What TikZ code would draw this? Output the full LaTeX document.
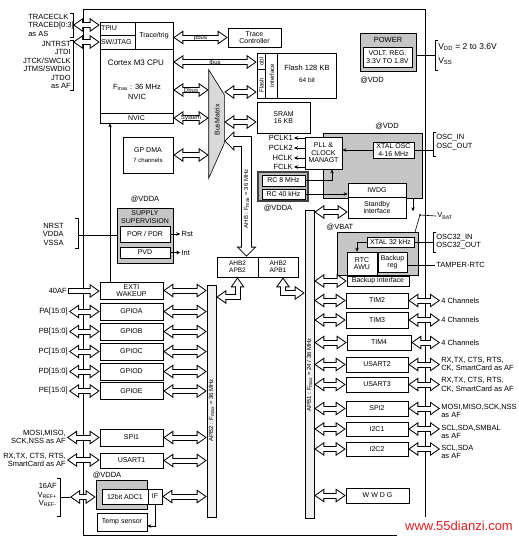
\documentclass[tikz,border=0pt]{standalone}
\usepackage{fontspec}
\setmainfont{Liberation Sans}
\usetikzlibrary{arrows.meta,positioning,calc}
\definecolor{wmred}{RGB}{225,30,30}

\begin{document}
\begin{tikzpicture}[x=1pt, y=-1pt, line width=0.6pt,
  box/.style 2 args={draw, fill=white, inner sep=1pt, align=center, minimum width=#1pt, minimum height=#2pt, font=\fontsize{7}{7.5}\selectfont},
  gbox/.style 2 args={box={#1}{#2}, fill=gray!45},
  lbl/.style={inner sep=1pt, align=center, font=\fontsize{7.5}{8.5}\selectfont},
  rlbl/.style={lbl, anchor=west, align=left, font=\fontsize{7.5}{8.5}\selectfont},
  tiny/.style={inner sep=0.5pt, font=\fontsize{6}{6}\selectfont},
  sarr/.style={-{Stealth[length=4pt,width=3.5pt]}},
  bus/.style={line width=6pt, {Triangle[length=10pt,width=14pt,line width=0pt]}-{Triangle[length=10pt,width=14pt,line width=0pt]},
    postaction={draw=white, line width=4pt, shorten <=1.7pt, shorten >=1.7pt, {Triangle[length=7.3pt,width=10.2pt,line width=0pt]}-{Triangle[length=7.3pt,width=10.2pt,line width=0pt]}}},
  onebus/.style={line width=6pt, -{Triangle[length=10pt,width=14pt,line width=0pt]},
    postaction={draw=white, line width=4pt, shorten <=1pt, shorten >=1.7pt, -{Triangle[length=7.3pt,width=10.2pt,line width=0pt]}}},
  widebus/.style={line width=11pt, {Triangle[length=10pt,width=20pt,line width=0pt]}-{Triangle[length=10pt,width=20pt,line width=0pt]},
    postaction={draw=white, line width=9pt, shorten <=1.4pt, shorten >=1.4pt, {Triangle[length=7.6pt,width=15.2pt,line width=0pt]}-{Triangle[length=7.6pt,width=15.2pt,line width=0pt]}}}]
\useasboundingbox (0,0) rectangle (519,541);
\draw (397,535) -- (83,535) -- (83,9) -- (425,9) -- (425,517);

\node[lbl, anchor=west, align=left] (trace) at (27,25) {TRACECLK\\TRACED[0:3]\\as AS};
\node[lbl, anchor=east, align=right] (jtag) at (72,65) {JNTRST\\JTDI\\JTCK/SWCLK\\JTMS/SWDIO\\JTDO\\as AF};
\draw (70,13) -- (73,13) -- (73,37) -- (70,37);
\draw (70,40) -- (73,40) -- (73,90) -- (70,90);
\coordinate (tracebr) at (73,25);
\coordinate (jtagbr) at (73,42);

\node[box={35}{13}, text width=33pt, align=left] (tpiu) at (117.5,28.5) {TPIU};
\node[box={35}{14}, text width=33pt, align=left] (swj) at (117.5,42) {SW/JTAG};
\node[box={38}{27}] (trig) at (154,35.5) {Trace/trig};
\node[box={73}{74}] (cpu) at (136.5,86) {};
\node[box={73}{10}] (nvic) at (136.5,118) {NVIC};
\node[lbl, font=\fontsize{8}{9}\selectfont] (cputxt) at (136,63) {Cortex M3 CPU};
\node[lbl] (fmax) at (137,92) {F\textsubscript{max} : 36 MHz\\[1pt]NVIC};
\node[box={53}{19}] (tctrl) at (254.5,37.5) {Trace\\Controller};

\node[minimum width=15pt, minimum height=108pt, inner sep=0pt] (bm) at (216.5,124) {};
\draw[fill=gray!30] (bm.north west) -- ([yshift=-25pt]bm.north east) -- ([yshift=35pt]bm.south east) -- (bm.south west) -- cycle;
\node[tiny, rotate=90, font=\fontsize{7}{7}\selectfont] (bmtxt) at (217,120) {BusMatrix};

\node[box={79}{45}] (flash) at (296.5,75.5) {};
\draw ([xshift=9pt]flash.north west) -- ([xshift=9pt]flash.south west);
\draw ([xshift=21pt]flash.north west) -- ([xshift=21pt]flash.south west);
\draw ([yshift=-17pt]flash.north west) -- ++(9,0);
\node[tiny, rotate=90] (obl) at (261.5,61.5) {obl};
\node[tiny, rotate=90] (flif1) at (261.5,85) {Flash};
\node[tiny, rotate=90] (flif2) at (272,75.5) {Interface};
\node[lbl] (flashtxt) at (307,74) {Flash 128 KB\\[3pt]{\fontsize{6.5}{7}\selectfont 64 bit}};
\node[box={53}{31}] (sram) at (283.5,117.5) {SRAM\\16 KB};
\node[box={50}{36}] (dma) at (148,155) {GP DMA\\[2pt]{\fontsize{6}{6}\selectfont 7 channels}};

\node[lbl] (vdda1) at (145,199) {@VDDA};
\node[gbox={56}{55}] (supsup) at (145,235.5) {};
\node[lbl, font=\fontsize{7}{7.5}\selectfont] (suptxt) at (145,217) {SUPPLY\\SUPERVISION};
\node[box={50}{16}] (por) at (145,234) {POR / PDR};
\node[box={50}{11}] (pvd) at (145,252.5) {PVD};
\node[lbl, anchor=east, align=right] (nrst) at (65,234) {NRST\\VDDA\\VSSA};
\draw (75,218) -- (78,218) -- (78,248) -- (75,248);
\coordinate (nrstbr) at (78,235);

\node[box={41}{20}, font=\fontsize{6.5}{7}\selectfont] (apb2box) at (237.5,267) {AHB2\\APB2};
\node[box={40}{20}, font=\fontsize{6.5}{7}\selectfont] (apb1box) at (278,267) {AHB2\\APB1};
\node[draw, fill=gray!12, minimum width=9pt, minimum height=232pt, inner sep=0pt] (apb2bar) at (211.5,401) {};
\node[tiny, rotate=90] (apb2txt) at (211.5,410) {APB2 : F\textsubscript{max} = 36 MHz};
\node[draw, fill=gray!12, minimum width=9pt, minimum height=308pt, inner sep=0pt] (apb1bar) at (309.5,364) {};
\node[tiny, rotate=90] (apb1txt) at (309.5,375) {APB1 : F\textsubscript{max} = 24 / 36 MHz};

\node[box={63}{17}] (exti) at (131.5,290.5) {EXTI\\WAKEUP};
\node[lbl, anchor=east] (af40) at (68,291) {40AF};
\node[box={63}{17}] (spi1) at (131.5,437.5) {SPI1};
\node[box={63}{15}] (usart1) at (131.5,460.5) {USART1};
\node[lbl, anchor=east, align=right] (spi1pin) at (67,437.5) {MOSI,MISO,\\SCK,NSS as AF};
\node[lbl, anchor=east, align=right] (u1pin) at (67,460) {RX,TX, CTS, RTS,\\SmartCard as AF};

\node[lbl] (vdda3) at (107,475) {@VDDA};
\node[gbox={51}{29}] (adcbg) at (121.5,494.5) {};
\node[box={46}{15}] (adc) at (125,496.5) {12bit ADC1};
\node[box={14}{15}] (adcif) at (155,496.5) {IF};
\node[box={50}{18}] (temp) at (122,522) {Temp sensor};
\node[lbl, anchor=east, align=right] (vref) at (58,495) {16AF\\V\textsubscript{REF+}\\V\textsubscript{REF-}};
\draw (57,478) -- (60,478) -- (60,516) -- (57,516);
\coordinate (vrefbr) at (60,497);
\coordinate (vrefin) at (70,497);

\node[gbox={56}{38}] (power) at (388,52) {};
\node[lbl] (powtxt) at (388,40) {POWER};
\node[box={49}{20}, line width=0.9pt] (vreg) at (387.5,57) {VOLT. REG.\\3.3V TO 1.8V};
\node[lbl] (vdd1) at (372,80) {@VDD};
\draw (438,40) -- (435,40) -- (435,70) -- (438,70);
\coordinate (vddbr) at (435,55);
\node[rlbl, font=\fontsize{8.5}{9}\selectfont] (vdd) at (437,47) {V\textsubscript{DD} = 2 to 3.6V};
\node[rlbl, font=\fontsize{8.5}{9}\selectfont] (vss) at (437,61) {V\textsubscript{SS}};

\node[lbl] (vdd2) at (387,126) {@VDD};
\node[draw, fill=gray!45, minimum width=99pt, minimum height=65pt, inner sep=0pt] (clkdom) at (372.5,165.5) {};
\node[box={37}{32}] (pll) at (323.5,153) {PLL \&\\CLOCK\\MANAGT};
\node[box={41}{16}, line width=1pt] (xtal) at (393.5,150) {XTAL OSC\\4-16 MHz};
\draw (436,132) -- (433,132) -- (433,156) -- (436,156);
\coordinate (oscbr) at (433,150);
\node[rlbl] (osc) at (435,142) {OSC\_IN\\OSC\_OUT};
\node[lbl, anchor=east] (pclk1) at (294,138) {PCLK1};
\node[lbl, anchor=east] (pclk2) at (294,148) {PCLK2};
\node[lbl, anchor=east] (hclk) at (294,158) {HCLK};
\node[lbl, anchor=east] (fclk) at (294,167) {FCLK};
\node[draw=black!75, line width=1.5pt, fill=gray!55, minimum width=50pt, minimum height=29pt, inner sep=0pt] (rcbox) at (283,186.5) {};
\node[box={43}{11}] (rc8) at (283.5,180.5) {RC 8 MHz};
\node[box={43}{10}] (rc40) at (283.5,194) {RC 40 kHz};
\node[lbl] (vdda2) at (278,208) {@VDDA};
\node[box={58}{14}] (iwdg) at (377,190) {IWDG};
\node[box={58}{21}] (stby) at (377,207.5) {Standby\\interface};
\node[lbl] (vbat1) at (340,227) {@VBAT};
\node[rlbl] (vbat) at (436,216) {V\textsubscript{BAT}};
\coordinate (sw) at (420,215);

\node[draw, fill=gray!45, minimum width=81pt, minimum height=43pt, inner sep=0pt] (bkpdom) at (377.5,253.5) {};
\node[box={47}{10}, line width=1pt] (xtal32) at (390.5,242) {XTAL 32 kHz};
\node[box={30}{23}] (rtc) at (362,263.5) {RTC\\AWU};
\node[box={29}{20}] (breg) at (392.5,262) {Backup\\reg};
\node[box={62}{10}] (bkif) at (378,281) {Backup interface};
\draw (436,232) -- (433,232) -- (433,252) -- (436,252);
\coordinate (osc32br) at (433,242);
\node[rlbl] (osc32) at (435,241.5) {OSC32\_IN\\OSC32\_OUT};
\node[rlbl] (tamper) at (435,265) {TAMPER-RTC};

\node[box={62}{15}] (tim2) at (377,300.5) {TIM2};
\node[box={62}{16}] (tim3) at (377,320) {TIM3};
\node[box={64}{15}] (tim4) at (379,342.5) {TIM4};
\node[box={62}{15}] (usart2) at (377,364.5) {USART2};
\node[box={62}{15}] (usart3) at (377,384.5) {USART3};
\node[box={62}{15}] (spi2) at (377,408.5) {SPI2};
\node[box={62}{14}] (i2c1) at (377,429) {I2C1};
\node[box={62}{14}] (i2c2) at (377,449) {I2C2};
\node[box={63}{15}] (wwdg) at (377.5,495.5) {W W D G};
\node[rlbl] (tim2pin) at (440,300.5) {4 Channels};
\node[rlbl] (tim3pin) at (440,320) {4 Channels};
\node[rlbl] (tim4pin) at (440,342.5) {4 Channels};
\node[rlbl] (u2pin) at (440,364.5) {RX,TX, CTS, RTS,\\CK, SmartCard as AF};
\node[rlbl] (u3pin) at (440,385) {RX,TX, CTS, RTS,\\CK, SmartCard as AF};
\node[rlbl] (spi2pin) at (440,411) {MOSI,MISO,SCK,NSS\\as AF};
\node[rlbl] (i2c1pin) at (440,432) {SCL,SDA,SMBAL\\as AF};
\node[rlbl] (i2c2pin) at (440,452) {SCL,SDA\\as AF};

\node[text=wmred, inner sep=1pt, font=\fontsize{13}{13}\selectfont] (wm) at (459,526) {www.55dianzi.com};

\draw[bus] (tracebr) -- (tpiu.west |- tracebr);
\draw[bus] (jtagbr) -- (swj.west |- jtagbr);
\draw[bus] (trig.east |- tctrl.west) -- (tctrl.west) node[midway, tiny] (pbus) {pbus};
\draw[bus] ([yshift=24pt]cpu.east) -- ([yshift=24pt]cpu.east -| flash.west) node[midway, tiny] (ibus) {Ibus};
\draw[bus] ([yshift=-4pt]cpu.east) -- ([yshift=-4pt]cpu.east -| bm.west) node[midway, tiny] (dbus) {Dbus};
\draw[bus] ([yshift=-32pt]cpu.east) -- ([yshift=-32pt]cpu.east -| bm.west) node[midway, tiny] (sysbus) {System};
\draw[bus] (bm.east |- 0,92) -- (flash.west |- 0,92);
\draw[bus] (bm.east |- 0,122) -- (sram.west |- 0,122);
\draw[bus] (dma.east) -- (bm.west |- dma.east);
\draw[widebus] (bm.east |- 0,141) -| ([xshift=9pt]apb2box.north) node[pos=0.75, tiny, rotate=90] (ahbtxt) {AHB : F\textsubscript{max} = 36 MHz};
\draw[bus] (apb2box.south) |- (apb2bar.east |- 0,297);
\draw[bus] ([xshift=5pt]apb1box.south) |- (apb1bar.west |- 0,293);

\draw[sarr] (por.east) -- ++(10,0) node[lbl, right] (rst) {Rst};
\draw[sarr] (pvd.east) -- ++(10,0) node[lbl, right] (int) {Int};
\draw (nrstbr) -- (supsup.west |- nrstbr);
\draw[sarr] (exti.north -| 110,0) -- (nvic.south -| 110,0);

\draw[onebus] (af40.east) -- (exti.west |- af40.east);
\draw[bus] (exti.east) -- (apb2bar.west |- exti.east);
\foreach \p/\y in {A/311.5, B/331.5, C/351.5, D/371.5, E/391}{
  \node[box={63}{17}] (gpio\p) at (131.5,\y) {GPIO\p};
  \node[lbl, anchor=east] (p\p) at (69,\y) {P\p[15:0]};
  \draw[bus] (p\p.east) -- (gpio\p.west);
  \draw[bus] (gpio\p.east) -- (apb2bar.west |- gpio\p.east);
}
\draw[bus] (spi1pin.east) -- (spi1.west);
\draw[bus] (u1pin.east) -- (usart1.west |- u1pin.east);
\draw[bus] (spi1.east) -- (apb2bar.west |- spi1.east);
\draw[bus] (usart1.east) -- (apb2bar.west |- usart1.east);
\draw[bus] (adcif.east) -- (apb2bar.west |- adcif.east);
\draw[sarr] (adcif.south) |- ([yshift=-4pt]temp.east);
\draw (vrefbr) -- (vrefin);
\draw[bus] (vrefin) -- (adcbg.west |- vrefin);

\draw (power.east |- vddbr) -- (vddbr);
\draw[sarr] (xtal.west) -- (pll.east |- xtal.west);
\draw (xtal.east |- oscbr) -- (oscbr);
\foreach \c in {pclk1,pclk2,hclk,fclk} \draw[sarr] (pll.west |- \c.east) -- (\c.east);
\draw[sarr] (rc8.east) -| ([xshift=8.5pt]pll.south);
\draw[sarr] (rc40.east) -- (iwdg.west |- rc40.east);
\draw[bus] (apb1bar.east |- 0,212) -- (stby.west |- 0,212);
\draw (vbat.west) -- (sw);
\fill (sw) circle (1pt);
\draw (sw) -- (415,232);
\draw[sarr] (clkdom.south -| 413,0) -- ++(0,13);
\draw (xtal32.east) -- (osc32br);
\draw[sarr] (xtal32.west) -| ([xshift=-5pt]rtc.north);
\draw (breg.east |- tamper.west) -- (tamper.west);
\draw[bus] (apb1bar.east |- bkif.west) -- (bkif.west);

\foreach \b/\q in {tim2/tim2pin, tim3/tim3pin, tim4/tim4pin, usart2/u2pin, usart3/u3pin, spi2/spi2pin, i2c1/i2c1pin, i2c2/i2c2pin}{
  \draw[bus] (apb1bar.east |- \b.west) -- (\b.west);
  \draw[bus] (\b.east) -- (\b.east -| \q.west);
}
\draw[bus] (apb1bar.east |- wwdg.west) -- (wwdg.west);
\end{tikzpicture}
\end{document}
